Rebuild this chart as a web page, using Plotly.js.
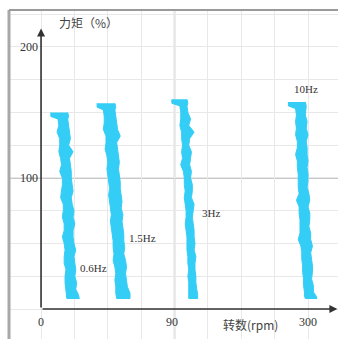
<!DOCTYPE html>
<html>
<head>
<meta charset="utf-8">
<script src="https://cdn.plot.ly/plotly-3.0.1.min.js"></script>
<style>html,body{margin:0;padding:0;background:#fff;}#chart{width:338px;height:339px;}</style>
</head>
<body>
<div id="chart"></div>
<script>
// Band edges (x in axis units, where axis label "90" sits at 150 and "300" at 300), torque in %
var torque06 = [150,147,145,140,135,130,125,120,115,110,105,100,95,90,85,80,75,70,65,60,55,50,45,40,35,30,25,20,15,11,8];
var left06   = [11,11,19,20,18,21,21,20,22,23,21,24,24,23,22,25,25,24,26,26,24,26,27,26,26,28,27,27,28,28,29];
var right06  = [30,31,30,31,32,33,31,36,32,33,34,34,35,36,34,35,37,36,38,36,36,37,39,37,38,39,38,40,39,42,43];

var torque15 = [157,154,152,147,142,137,132,127,122,117,112,107,102,97,92,87,82,77,72,67,62,57,52,47,42,37,32,27,22,17,12,8];
var left15   = [63,63,70,71,71,70,73,73,72,74,75,74,75,76,77,76,77,78,79,78,79,80,81,81,82,81,83,84,83,84,84,85];
var right15  = [83,84,83,84,85,86,89,85,86,87,88,87,88,89,89,90,91,90,92,91,92,93,93,94,93,95,96,95,96,97,100,100];

var torque3 = [160,157,155,150,145,140,135,130,125,120,115,110,105,100,95,90,85,80,75,70,65,60,55,50,45,40,35,30,25,20,15,11,8];
var left3   = [147,147,156,157,157,156,158,158,159,158,159,157,160,161,161,162,161,162,163,163,162,163,164,164,164,165,165,166,165,166,166,166,166];
var right3  = [164,165,164,165,168,166,172,167,166,169,168,167,169,168,170,170,169,172,171,170,171,172,172,173,172,174,173,173,174,174,175,176,176];

var torque10 = [158,155,153,148,143,138,133,128,123,118,113,108,103,98,93,88,83,78,73,68,63,58,53,48,43,38,33,28,23,18,13,10,8];
var left10   = [278,278,286,287,286,287,286,288,288,286,288,288,289,289,289,290,287,290,290,291,291,291,289,292,293,293,294,294,295,295,296,296,297];
var right10  = [297,298,298,297,299,298,300,298,299,299,300,299,300,300,299,301,302,300,302,302,301,303,303,305,303,304,305,305,304,306,306,309,310];

var bandLabels = ['0.6Hz','1.5Hz','3Hz','10Hz'];
var labelX = [42, 97, 179, 282];
var labelY = [31, 54, 73, 168];

var xTickVals = [0, 150, 300];
var xTickText = ['0', '90', '300'];
var yTickVals = [100, 200];
var yTickText = ['100', '200'];

var yTitle = '力矩（%）';
var xTitle = '转数(rpm)';

var bandColor = '#33cdf6';
var serif = 'Liberation Serif, Times New Roman, serif';

function band(t, l, r, name) {
  return {
    type: 'scatter', mode: 'lines', name: name,
    x: l.concat(r.slice().reverse()),
    y: t.concat(t.slice().reverse()),
    fill: 'toself', fillcolor: bandColor,
    line: {color: bandColor, width: 1},
    hoverinfo: 'skip', showlegend: false
  };
}

var traces = [
  band(torque06, left06, right06, bandLabels[0]),
  band(torque15, left15, right15, bandLabels[1]),
  band(torque3, left3, right3, bandLabels[2]),
  band(torque10, left10, right10, bandLabels[3])
];

var gridX = [], gridY = [];
for (var gx = -37.5; gx <= 340; gx += 37.5) gridX.push(gx);
for (var gy = -25; gy <= 230; gy += 25) gridY.push(gy);

var ann = [];
ann.push({x: 0, y: 214, ax: 0, ay: 0, xref: 'x', yref: 'y', axref: 'x', ayref: 'y',
  text: '', showarrow: true, arrowhead: 2, arrowsize: 1, arrowwidth: 1.6, arrowcolor: '#333'});
ann.push({x: 333, y: 0, ax: 0, ay: 0, xref: 'x', yref: 'y', axref: 'x', ayref: 'y',
  text: '', showarrow: true, arrowhead: 2, arrowsize: 1, arrowwidth: 1.6, arrowcolor: '#333'});
for (var i = 0; i < yTickVals.length; i++) {
  ann.push({x: 0, y: yTickVals[i], xref: 'x', yref: 'y', text: yTickText[i], showarrow: false,
    xanchor: 'right', yanchor: 'middle', xshift: -1, font: {family: serif, size: 12, color: '#333'}});
}
for (var j = 0; j < xTickVals.length; j++) {
  ann.push({x: xTickVals[j] - (xTickText[j] === '90' ? 3 : 0), y: -10, xref: 'x', yref: 'y', text: xTickText[j], showarrow: false,
    xanchor: 'center', yanchor: 'middle', font: {family: serif, size: 12, color: '#333'}});
}
for (var k = 0; k < bandLabels.length; k++) {
  ann.push({x: labelX[k], y: labelY[k], xref: 'x', yref: 'y', text: bandLabels[k], showarrow: false,
    xanchor: 'left', yanchor: 'middle', font: {family: serif, size: 11, color: '#333'}});
}
ann.push({x: 53, y: 219, xref: 'x', yref: 'y', text: yTitle, showarrow: false,
  xanchor: 'center', yanchor: 'middle', font: {family: 'Noto Sans CJK SC', size: 12, color: '#444'}});
ann.push({x: 235, y: -12, xref: 'x', yref: 'y', text: xTitle, showarrow: false,
  xanchor: 'center', yanchor: 'middle', font: {family: 'Noto Sans CJK SC', size: 12, color: '#444'}});

var layout = {
  width: 338, height: 339,
  margin: {l: 9, r: 0, t: 10, b: 0, pad: 0},
  paper_bgcolor: '#fff', plot_bgcolor: '#fff',
  showlegend: false,
  xaxis: {range: [-36, 333.7], tickvals: gridX, showticklabels: false, ticks: '',
    showgrid: true, gridcolor: '#e8e8e8', gridwidth: 1, zeroline: false, showline: false, fixedrange: true},
  yaxis: {range: [-22.9, 228.2], tickvals: gridY, showticklabels: false, ticks: '',
    showgrid: true, gridcolor: '#e8e8e8', gridwidth: 1, zeroline: false, showline: false, fixedrange: true},
  shapes: [
    {type: 'line', xref: 'paper', yref: 'y', x0: 0, x1: 1, y0: 100, y1: 100, line: {color: '#8a8a8a', width: 1}, layer: 'below'},
    {type: 'line', xref: 'x', yref: 'paper', x0: 150, x1: 150, y0: 0, y1: 1, line: {color: '#b5b5b5', width: 1.5}, layer: 'below'},
    {type: 'line', xref: 'paper', yref: 'paper', x0: 0, x1: 0, y0: 0, y1: 1, line: {color: '#a8a8a8', width: 3}},
    {type: 'line', xref: 'paper', yref: 'paper', x0: 0, x1: 1, y0: 1, y1: 1, line: {color: '#9a9a9a', width: 2}}
  ],
  annotations: ann
};

Plotly.newPlot('chart', traces, layout, {staticPlot: true, displayModeBar: false});
</script>
</body>
</html>
